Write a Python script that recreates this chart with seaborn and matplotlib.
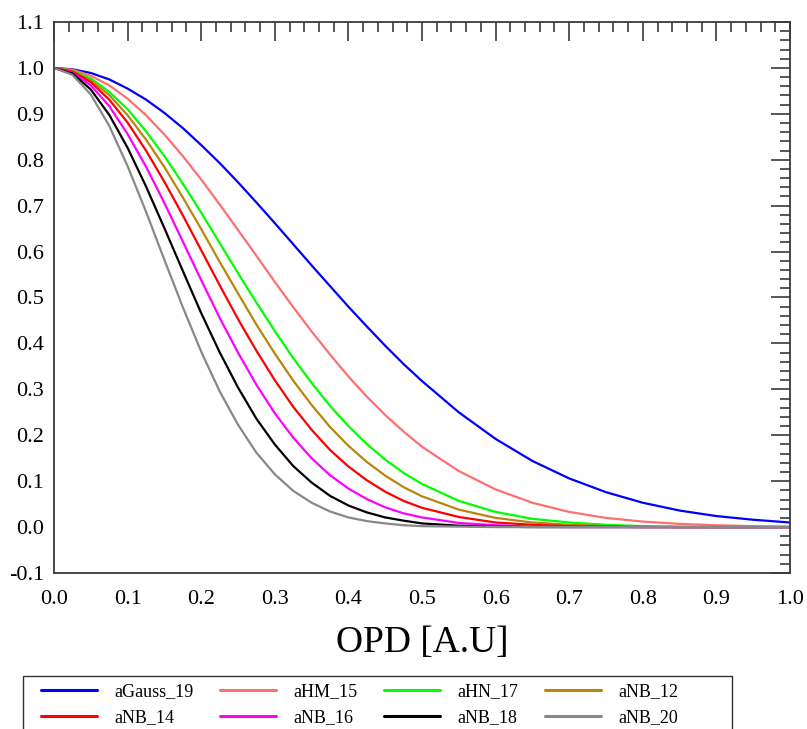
import numpy as np
import pandas as pd
import matplotlib
matplotlib.use("Agg")
import matplotlib.pyplot as plt
from matplotlib.patches import Rectangle
from matplotlib.ticker import MultipleLocator, FormatStrFormatter
import seaborn as sns

# OPD grid (A.U) and the curves
opd = [0.0, 0.025, 0.05, 0.075, 0.1, 0.125, 0.15, 0.175, 0.2, 0.225, 0.25,
       0.275, 0.3, 0.325, 0.35, 0.375, 0.4, 0.425, 0.45, 0.475, 0.5,
       0.55, 0.6, 0.65, 0.7, 0.75, 0.8, 0.85, 0.9, 0.95, 1.0]

a_gauss_19 = [1.000, 0.997, 0.989, 0.975, 0.955, 0.931, 0.902, 0.869, 0.832, 0.793, 0.751,
              0.707, 0.662, 0.616, 0.570, 0.525, 0.480, 0.437, 0.395, 0.355, 0.318,
              0.250, 0.192, 0.144, 0.106, 0.076, 0.053, 0.036, 0.024, 0.016, 0.010]
a_hm_15 = [1.000, 0.996, 0.983, 0.962, 0.933, 0.897, 0.855, 0.808, 0.757, 0.703, 0.647,
           0.591, 0.534, 0.479, 0.426, 0.376, 0.328, 0.284, 0.244, 0.208, 0.175,
           0.122, 0.082, 0.053, 0.033, 0.020, 0.012, 0.007, 0.004, 0.002, 0.001]
a_hn_17 = [1.000, 0.994, 0.977, 0.948, 0.910, 0.862, 0.808, 0.748, 0.685, 0.619, 0.553,
           0.489, 0.427, 0.368, 0.314, 0.264, 0.220, 0.181, 0.147, 0.118, 0.094,
           0.057, 0.033, 0.018, 0.010, 0.005, 0.002, 0.001, 0.0, 0.0, 0.0]
a_nb_12 = [1.000, 0.993, 0.973, 0.941, 0.897, 0.844, 0.784, 0.718, 0.649, 0.578, 0.509,
           0.441, 0.378, 0.319, 0.266, 0.218, 0.177, 0.142, 0.112, 0.087, 0.067,
           0.038, 0.020, 0.010, 0.005, 0.002, 0.001, 0.0, 0.0, 0.0, 0.0]
a_nb_14 = [1.000, 0.992, 0.969, 0.931, 0.881, 0.820, 0.752, 0.679, 0.603, 0.527, 0.453,
           0.384, 0.320, 0.262, 0.212, 0.168, 0.132, 0.102, 0.077, 0.057, 0.042,
           0.022, 0.010, 0.005, 0.002, 0.001, 0.0, 0.0, 0.0, 0.0, 0.0]
a_nb_16 = [1.000, 0.990, 0.962, 0.917, 0.856, 0.785, 0.706, 0.622, 0.538, 0.456, 0.380,
           0.310, 0.248, 0.195, 0.150, 0.113, 0.084, 0.061, 0.043, 0.030, 0.021,
           0.009, 0.004, 0.001, 0.0, 0.0, 0.0, 0.0, 0.0, 0.0, 0.0]
a_nb_18 = [1.000, 0.988, 0.953, 0.898, 0.826, 0.742, 0.651, 0.558, 0.466, 0.381, 0.304,
           0.236, 0.180, 0.133, 0.097, 0.068, 0.047, 0.032, 0.021, 0.014, 0.008,
           0.003, 0.001, 0.0, 0.0, 0.0, 0.0, 0.0, 0.0, 0.0, 0.0]
a_nb_20 = [1.000, 0.985, 0.942, 0.874, 0.786, 0.687, 0.582, 0.479, 0.382, 0.296, 0.223,
           0.162, 0.115, 0.079, 0.053, 0.034, 0.021, 0.013, 0.008, 0.004, 0.002,
           0.001, 0.0, 0.0, 0.0, 0.0, 0.0, 0.0, 0.0, 0.0, 0.0]

names = ["aGauss_19", "aHM_15", "aHN_17", "aNB_12",
         "aNB_14", "aNB_16", "aNB_18", "aNB_20"]
series = [a_gauss_19, a_hm_15, a_hn_17, a_nb_12,
          a_nb_14, a_nb_16, a_nb_18, a_nb_20]
colors = ["#0000ff", "#ff6f6f", "#00ff00", "#b8860b",
          "#ff0000", "#ff00ff", "#000000", "#888888"]

df = pd.concat([pd.DataFrame({"opd": opd, "value": v, "name": n})
                for n, v in zip(names, series)], ignore_index=True)

sns.set_theme(style="white")
plt.rcParams["font.family"] = ["Liberation Serif", "DejaVu Serif"]
plt.rcParams["axes.unicode_minus"] = False
plt.rcParams["text.color"] = "black"
plt.rcParams["axes.labelcolor"] = "black"

W, H = 807, 729
fig = plt.figure(figsize=(W / 100, H / 100), dpi=100)
ax = fig.add_axes([54 / W, 1 - 573 / H, (790 - 54) / W, (573 - 22) / H])

sns.lineplot(data=df, x="opd", y="value", hue="name", hue_order=names,
             palette=dict(zip(names, colors)), linewidth=1.6, ax=ax,
             legend=False, estimator=None, sort=True,
             solid_joinstyle="round", solid_capstyle="round")

ax.set_xlim(0, 1.0)
ax.set_ylim(-0.1, 1.1)
ax.xaxis.set_major_locator(MultipleLocator(0.1))
ax.xaxis.set_minor_locator(MultipleLocator(0.02))
ax.yaxis.set_major_locator(MultipleLocator(0.1))
ax.yaxis.set_minor_locator(MultipleLocator(0.02))
ax.xaxis.set_major_formatter(FormatStrFormatter("%.1f"))
ax.yaxis.set_major_formatter(FormatStrFormatter("%.1f"))

edge = "#3a3a3a"
for sp in ax.spines.values():
    sp.set_color(edge)
    sp.set_linewidth(1.3)
ax.tick_params(which="both", direction="in", top=True, right=True,
               color=edge, width=1.2, labelsize=16, labelcolor="black")
ax.tick_params(which="major", length=13.5)
ax.tick_params(which="minor", length=7)
ax.tick_params(axis="x", which="major", pad=12)
ax.tick_params(axis="y", which="major", pad=7)

ax.set_xlabel("OPD [A.U]", fontsize=27, labelpad=12)
ax.set_ylabel("")

# legend box (runs off the bottom of the figure, as in the original)
fig.patches.append(Rectangle((23 / W, -0.05), (732 - 23) / W, 1 - 676 / H + 0.05,
                             transform=fig.transFigure, fill=False,
                             edgecolor="#333333", linewidth=1.0))

handles = [plt.Line2D([], [], color=c, linewidth=2.2) for c in colors]
order = [0, 4, 1, 5, 2, 6, 3, 7]
leg = fig.legend([handles[i] for i in order], [names[i] for i in order],
                 ncol=4, loc="upper left",
                 bbox_to_anchor=(41 / W, 1 - 683 / H),
                 bbox_transform=fig.transFigure,
                 fontsize=13, frameon=False, borderpad=0, borderaxespad=0,
                 handlelength=3.1, handletextpad=0.94, columnspacing=1.5,
                 labelspacing=0.5)

fig.savefig("out.png", dpi=100)
